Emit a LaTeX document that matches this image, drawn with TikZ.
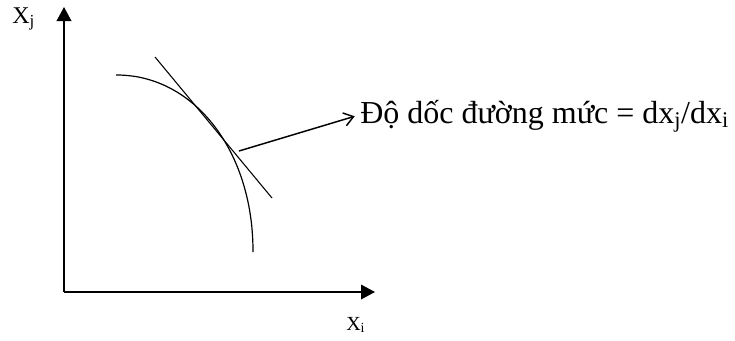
\documentclass[tikz,border=0pt]{standalone}
\usepackage{fontspec}
\setmainfont{Liberation Serif}
\usetikzlibrary{arrows.meta, positioning}

\begin{document}
\begin{tikzpicture}[
    x=0.75pt, y=-0.75pt,
    axis/.style={line width=1.1pt, -{Triangle[length=10.5pt, width=11pt]}},
    curve/.style={line width=0.9pt},
    tangent/.style={line width=0.8pt},
    pointer/.style={line width=1.1pt, -{Straight Barb[length=7pt, width=10pt]}},
    axlbl/.style={inner sep=0pt, anchor=base west},
    slopelbl/.style={font=\fontsize{24}{28}\selectfont, inner sep=0pt, anchor=base west}
]
\useasboundingbox (0,0) rectangle (735,340);

% ===================================================================
% AXES
% ===================================================================
\coordinate (O) at (64,292);
\coordinate (ytip) at (64,7);
\coordinate (xtip) at (375,292);
\draw[axis] (O) -- (ytip);
\draw[axis] (O) -- (xtip);

\node[axlbl, font=\fontsize{18}{20}\selectfont] (xjlbl) at (12,23) {X\textsubscript{j}};
\node[axlbl, font=\fontsize{15}{18}\selectfont] (xilbl) at (346,330) {X\textsubscript{i}};

% ===================================================================
% LEVEL CURVE AND TANGENT
% ===================================================================
\draw[curve] plot[domain=0:90, samples=60, variable=\t, smooth]
    ({116+137*pow(sin(\t),0.97)}, {252-177*pow(cos(\t),0.97)});
\draw[tangent] (155,57) -- (272,198);

% ===================================================================
% SLOPE LABEL
% ===================================================================
\coordinate (tp) at (239,151);
\node[slopelbl] (slope) at (360,123)
    {Độ dốc đường mức = dx\textsubscript{j}/dx\textsubscript{i}};
\draw[pointer] (tp) -- ([xshift=-4pt]slope.west);

\end{tikzpicture}
\end{document}
